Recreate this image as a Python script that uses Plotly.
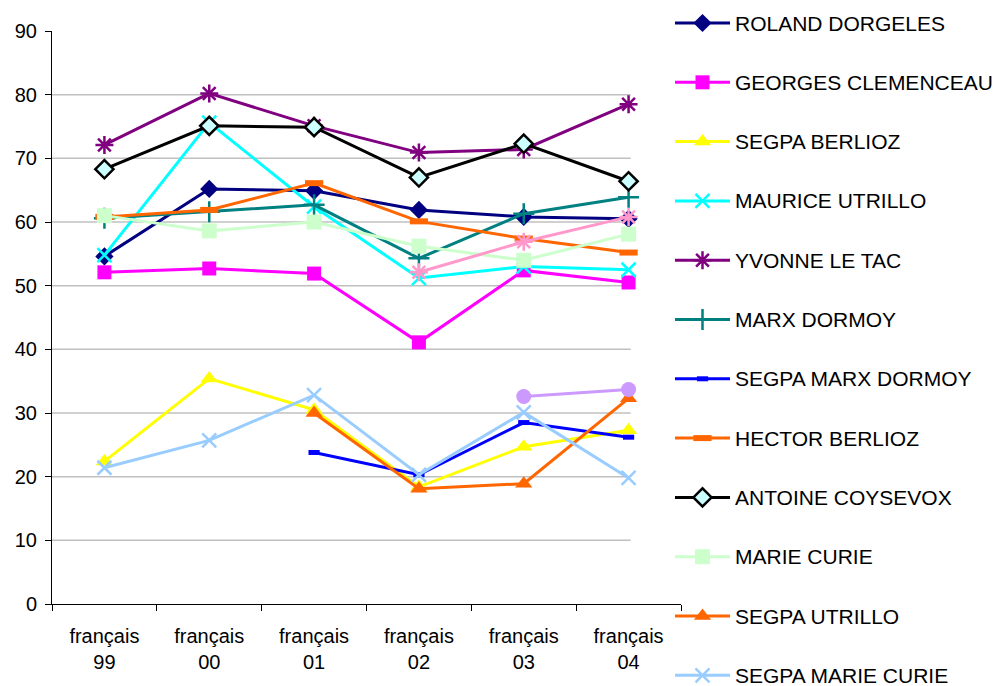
import plotly.graph_objects as go

categories = ["français<br>99", "français<br>00", "français<br>01", "français<br>02", "français<br>03", "français<br>04"]

roland_dorgeles = [54.6, 65.2, 64.9, 61.9, 60.8, 60.5]
georges_clemenceau = [52.1, 52.7, 51.9, 41.1, 52.4, 50.5]
segpa_berlioz = [22.4, 35.4, 30.5, 18.4, 24.7, 27.3]
maurice_utrillo = [54.8, 75.6, 62.4, 51.2, 53.0, 52.5]
yvonne_le_tac = [72.1, 80.2, 75.1, 70.9, 71.4, 78.5]
marx_dormoy = [60.6, 61.6, 62.7, 54.3, 61.3, 63.9]
segpa_marx_dormoy = [None, None, 23.8, 20.3, 28.5, 26.2]
hector_berlioz = [60.8, 61.9, 66.1, 60.1, 57.4, 55.2]
antoine_coysevox = [68.3, 75.1, 74.9, 67.0, 72.3, 66.4]
marie_curie = [61.0, 58.6, 60.0, 56.2, 54.0, 58.1]
segpa_utrillo = [None, None, 30.0, 18.1, 18.9, 32.3]
segpa_marie_curie = [21.4, 25.7, 32.8, 20.3, 30.1, 19.8]
unnamed_pink = [None, None, None, 52.1, 56.9, 60.8]
unnamed_lavender = [None, None, None, None, 32.6, 33.7]

y_ticks = [0, 10, 20, 30, 40, 50, 60, 70, 80, 90]
grid_values = [10, 20, 30, 40, 50, 60, 70, 80]

series = [
    ("ROLAND DORGELES", roland_dorgeles, "#000080", dict(symbol="diamond", size=14, color="#000080")),
    ("GEORGES CLEMENCEAU", georges_clemenceau, "#FF00FF", dict(symbol="square", size=14, color="#FF00FF")),
    ("SEGPA BERLIOZ", segpa_berlioz, "#FFFF00", dict(symbol="triangle-up", size=15, color="#FFFF00")),
    ("MAURICE UTRILLO", maurice_utrillo, "#00FFFF", dict(symbol="x-thin-open", size=14, color="#00FFFF", line=dict(width=2.5, color="#00FFFF"))),
    ("YVONNE LE TAC", yvonne_le_tac, "#800080", dict(symbol="asterisk-open", size=15, color="#800080", line=dict(width=2.5, color="#800080"))),
    ("MARX DORMOY", marx_dormoy, "#008080", dict(symbol="cross-thin-open", size=15, color="#008080", line=dict(width=2.5, color="#008080"))),
    ("SEGPA MARX DORMOY", segpa_marx_dormoy, "#0000FF", dict(symbol="line-ew-open", size=8, color="#0000FF", line=dict(width=5, color="#0000FF"))),
    ("HECTOR BERLIOZ", hector_berlioz, "#FF6600", dict(symbol="line-ew-open", size=13, color="#FF6600", line=dict(width=6, color="#FF6600"))),
    ("ANTOINE COYSEVOX", antoine_coysevox, "#000000", dict(symbol="diamond", size=14, color="#CCFFFF", line=dict(width=2.5, color="#000000"))),
    ("MARIE CURIE", marie_curie, "#CCFFCC", dict(symbol="square", size=15, color="#CCFFCC")),
    ("SEGPA UTRILLO", segpa_utrillo, "#FF6600", dict(symbol="triangle-up", size=15, color="#FF6600")),
    ("SEGPA MARIE CURIE", segpa_marie_curie, "#99CCFF", dict(symbol="x-thin-open", size=14, color="#99CCFF", line=dict(width=2.5, color="#99CCFF"))),
    ("", unnamed_pink, "#FF99CC", dict(symbol="asterisk-open", size=15, color="#FF99CC", line=dict(width=2.5, color="#FF99CC"))),
    ("", unnamed_lavender, "#CC99FF", dict(symbol="circle", size=15, color="#CC99FF")),
]

# The page body has an 8px default margin: size the figure so it fits the window.
W, H = 992, 678
PLOT_L, PLOT_R, PLOT_T, PLOT_B = 44, 673, 23, 596

fig = go.Figure()
for name, vals, color, marker in series:
    fig.add_trace(go.Scatter(
        x=categories, y=vals, name=name, mode="lines+markers",
        line=dict(color=color, width=3), marker=marker,
        connectgaps=False, showlegend=False, xaxis="x", yaxis="y",
    ))

# Manual legend (pixel-space overlay axis)
LEG_X0, LEG_X1, LEG_TXT = 667, 722, 725
LEG_Y0, LEG_DY = 15, 59.3
annotations = []
row = 0
for name, vals, color, marker in series:
    if not name:
        continue
    yc = LEG_Y0 + row * LEG_DY
    fig.add_trace(go.Scatter(x=[LEG_X0, LEG_X1], y=[yc, yc], mode="lines",
                             line=dict(color=color, width=3), showlegend=False,
                             hoverinfo="skip", xaxis="x2", yaxis="y2", cliponaxis=False))
    fig.add_trace(go.Scatter(x=[(LEG_X0 + LEG_X1) / 2], y=[yc], mode="markers",
                             marker=marker, showlegend=False, hoverinfo="skip",
                             xaxis="x2", yaxis="y2", cliponaxis=False))
    annotations.append(dict(x=LEG_TXT, y=yc, xref="x2", yref="y2", text=name,
                            showarrow=False, xanchor="left", yanchor="middle",
                            font=dict(size=21, color="#000000")))
    row += 1

for g in grid_values:
    fig.add_shape(type="line", xref="x", yref="y", x0=-0.5, x1=5.02, y0=g, y1=g,
                  line=dict(color="#C0C0C0", width=1.5), layer="below")

fig.update_layout(
    width=W, height=H,
    margin=dict(l=0, r=0, t=0, b=0, autoexpand=False),
    paper_bgcolor="white", plot_bgcolor="rgba(0,0,0,0)",
    font=dict(family="Liberation Sans, Arial, sans-serif", size=20, color="#000000"),
    showlegend=False,
    annotations=annotations,
    xaxis=dict(
        domain=[PLOT_L / W, PLOT_R / W], anchor="y", automargin=False,
        type="category", range=[-0.5, 5.5], showgrid=False, zeroline=False,
        showline=True, linecolor="#000000", linewidth=1,
        ticks="outside", tickson="boundaries", ticklen=6, tickcolor="#000000",
        tickfont=dict(size=20), ticklabelstandoff=14,
    ),
    yaxis=dict(
        domain=[1 - PLOT_B / H, 1 - PLOT_T / H], anchor="x", automargin=False,
        range=[0, 90], tickvals=y_ticks, showgrid=False, zeroline=False,
        showline=True, linecolor="#000000", linewidth=1,
        ticks="outside", ticklen=6, tickcolor="#000000",
        tickfont=dict(size=20), ticklabelstandoff=4,
    ),
    xaxis2=dict(domain=[0, 1], range=[0, W], visible=False, anchor="y2", fixedrange=True, automargin=False),
    yaxis2=dict(domain=[0, 1], range=[H, 0], visible=False, anchor="x2", fixedrange=True, automargin=False),
)

fig.write_html("out.html")
